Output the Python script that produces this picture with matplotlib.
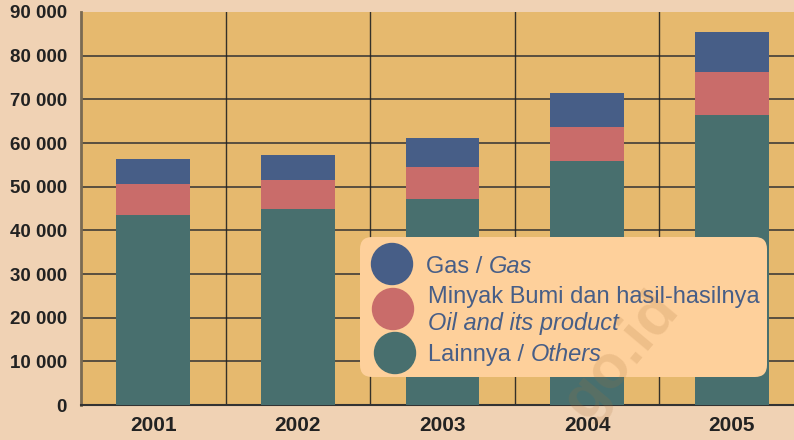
import numpy as np
import matplotlib.pyplot as plt
from matplotlib.patches import FancyBboxPatch, Circle

# Data
years = ['2001', '2002', '2003', '2004', '2005']
others = [43500, 44900, 47200, 55900, 66400]
oil = [7100, 6600, 7300, 7800, 9850]
gas = [5700, 5700, 6650, 7800, 9150]
y_ticks = [0, 10000, 20000, 30000, 40000, 50000, 60000, 70000, 80000, 90000]

c_gas = '#475e87'
c_oil = '#c96c6a'
c_oth = '#486f6e'
font = 'Liberation Sans'

fig = plt.figure(figsize=(7.94, 4.40), dpi=100, facecolor='#f0d2b4')
ax = fig.add_axes([81/794, 35/440, 723/794, 393/440])
ax.set_facecolor('#e6b96e')

x = np.arange(len(years))
others_arr = np.array(others)
oil_arr = np.array(oil)
ax.bar(x, others, width=0.51, color=c_oth, zorder=3)
ax.bar(x, oil, width=0.51, bottom=others_arr, color=c_oil, zorder=3)
ax.bar(x, gas, width=0.51, bottom=others_arr + oil_arr, color=c_gas, zorder=3)

ax.set_xlim(-0.5, len(years) - 0.5)
ax.set_ylim(0, 90000)
ax.set_yticks(y_ticks)
ax.set_yticklabels([f'{v:,}'.replace(',', ' ') for v in y_ticks],
                   fontsize=13.5, fontweight='bold', color='#222222', family=font)
ax.set_xticks(x)
ax.set_xticklabels(years, fontsize=15, fontweight='bold', color='#222222', family=font)
ax.tick_params(axis='y', length=0, pad=10)
ax.tick_params(axis='x', length=0, pad=8)

# grid lines
for v in y_ticks[1:-1]:
    ax.axhline(v, color='#333333', lw=1.3, alpha=0.85, zorder=1)
for b in x[:-1] + 0.5:
    ax.axvline(b, color='#222222', lw=1.0, alpha=0.9, zorder=1)

for s in ['top', 'right']:
    ax.spines[s].set_visible(False)
ax.spines['left'].set_color('#7a6a52')
ax.spines['left'].set_linewidth(2)
ax.spines['bottom'].set_color('#333333')
ax.spines['bottom'].set_linewidth(1.5)

# legend in pixel coordinates
ov = fig.add_axes([0, 0, 1, 1])
ov.set_xlim(0, 794)
ov.set_ylim(440, 0)
ov.axis('off')
ov.patch.set_alpha(0)

box = FancyBboxPatch((360, 237), 407, 140, boxstyle='round,pad=0,rounding_size=12',
                     facecolor='#fed09b', edgecolor='none', zorder=5)
ov.add_patch(box)
ov.add_patch(Circle((392, 264), 20.5, color=c_gas, zorder=6))
ov.add_patch(Circle((393, 309), 20.5, color=c_oil, zorder=6))
ov.add_patch(Circle((395, 353), 20.5, color=c_oth, zorder=6))

tcol = '#475e87'
fs = 17
renderer = fig.canvas.get_renderer()


def two_part(x0, y0, plain, ital):
    # plain text followed by an italic part on the same baseline
    t = ov.text(x0, y0, plain, fontsize=fs, color=tcol, family=font, va='baseline', zorder=7)
    w = t.get_window_extent(renderer).width
    ov.text(x0 + w, y0, ital, fontsize=fs, color=tcol, family=font, style='italic',
            va='baseline', zorder=7)


two_part(426, 273, 'Gas / ', 'Gas')
ov.text(428, 303, 'Minyak Bumi dan hasil-hasilnya', fontsize=fs, color=tcol,
        family=font, va='baseline', zorder=7)
ov.text(428, 330, 'Oil and its product', fontsize=fs, color=tcol, family=font,
        style='italic', va='baseline', zorder=7)
two_part(428, 361, 'Lainnya / ', 'Others')

# watermark (only the visible part)
ov.text(668, 300, 'go.id', fontsize=44, fontweight='bold', color='#a87038', alpha=0.18,
        family=font, rotation=50, rotation_mode='anchor', ha='right', va='center', zorder=8)

fig.savefig('out.png', dpi=100, facecolor=fig.get_facecolor())
